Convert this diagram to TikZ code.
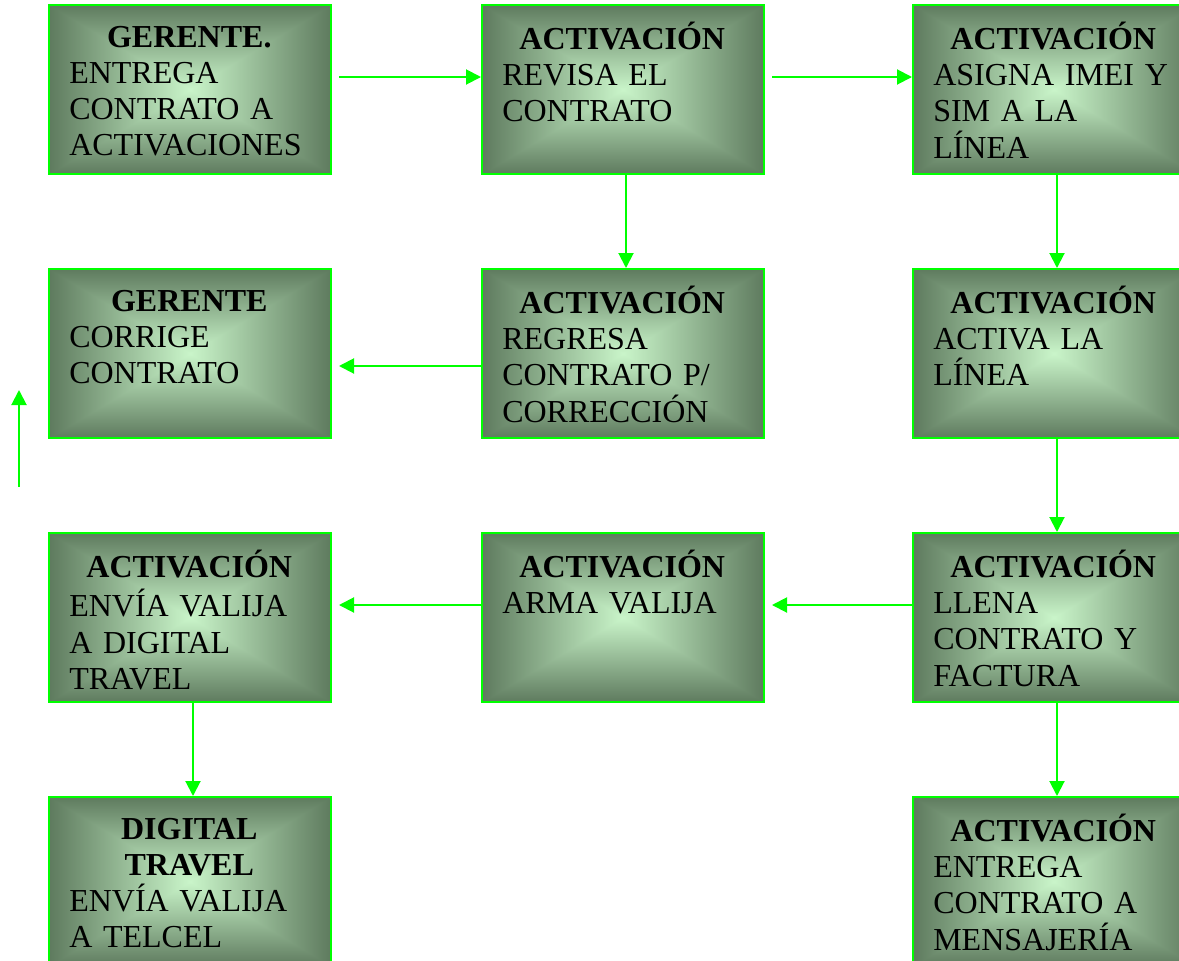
\documentclass[tikz,border=0pt]{standalone}
\usepackage{fontspec}
\setmainfont{Liberation Serif}
\usetikzlibrary{arrows.meta}

\definecolor{linegreen}{RGB}{0,255,0}

% rectangular glow: light in the middle, darker toward the edges
% (the visible part of a shading is its central 50bp square)
\pgfdeclarefunctionalshading{boxglow}{\pgfpoint{-50bp}{-50bp}}{\pgfpoint{50bp}{50bp}}{}{%
  abs exch abs 2 copy lt {exch} if pop 25 div
  dup 1 gt {pop 1} if
  dup -0.42 mul 0.79 add exch
  dup -0.48 mul 0.96 add exch
  -0.42 mul 0.79 add
}

\tikzset{
  card/.style={rectangle, draw=linegreen, line width=1.5pt, shading=boxglow,
    minimum width=211.5pt, minimum height=126.75pt, inner sep=0pt},
  cardtext/.style={anchor=north west, inner sep=0pt, text width=180pt,
    align=left, font=\fontsize{24}{27.2}\selectfont},
  flow/.style={draw=linegreen, line width=1.5pt,
    -{Triangle[length=11.25pt,width=11.25pt]}, fill=linegreen}
}

% #1 name, #2 centre, #3 bold heading, #4 body lines
\newcommand{\flowcard}[4]{%
  \node[card] (#1) at (#2) {};
  \node[cardtext] (#1t) at ([shift={(21,17.5)}]#1.north west)
    {{\centering\bfseries\strut #3\par}#4};
}

\begin{document}
\begin{tikzpicture}[x=0.75pt,y=-0.75pt]
\useasboundingbox (0,0) rectangle (1179,961);

% first row
\flowcard{b11}{190,89.5}{GERENTE.}{ENTREGA\\CONTRATO A\\ACTIVACIONES}
\flowcard{b12}{623,89.5}{ACTIVACIÓN}{REVISA EL\\CONTRATO}
\flowcard{b13}{1054,89.5}{ACTIVACIÓN}{ASIGNA IMEI Y\\SIM A LA\\LÍNEA}

% second row
\flowcard{b21}{190,353.5}{GERENTE}{CORRIGE\\CONTRATO}
\flowcard{b22}{623,353.5}{ACTIVACIÓN}{REGRESA\\CONTRATO P/\\CORRECCIÓN}
\flowcard{b23}{1054,353.5}{ACTIVACIÓN}{ACTIVA LA\\LÍNEA}

% third row
\flowcard{b31}{190,617.5}{ACTIVACIÓN}{ENVÍA VALIJA\\A DIGITAL\\TRAVEL}
\flowcard{b32}{623,617.5}{ACTIVACIÓN}{ARMA VALIJA}
\flowcard{b33}{1054,617.5}{ACTIVACIÓN}{LLENA\\CONTRATO Y\\FACTURA}

% fourth row
\flowcard{b41}{190,881.5}{DIGITAL\par TRAVEL}{ENVÍA VALIJA\\A TELCEL}
\flowcard{b43}{1054,881.5}{ACTIVACIÓN}{ENTREGA\\CONTRATO A\\MENSAJERÍA}

% connectors
\draw[flow] ([shift={(7,-12.5)}]b11.east) -- ([shift={(0,-12.5)}]b12.west);
\draw[flow] ([shift={(7,-12.5)}]b12.east) -- ([shift={(0,-12.5)}]b13.west);
\draw[flow] ([shift={(3,0)}]b12.south) -- ([shift={(3,0)}]b22.north);
\draw[flow] ([shift={(3,0)}]b13.south) -- ([shift={(3,0)}]b23.north);
\draw[flow] ([shift={(0,12.5)}]b22.west) -- ([shift={(7,12.5)}]b21.east);
\draw[flow] ([shift={(3,0)}]b23.south) -- ([shift={(3,0)}]b33.north);
\draw[flow] ([shift={(0,-12.5)}]b33.west) -- ([shift={(7,-12.5)}]b32.east);
\draw[flow] ([shift={(0,-12.5)}]b32.west) -- ([shift={(7,-12.5)}]b31.east);
\draw[flow] ([shift={(3,0)}]b31.south) -- ([shift={(3,0)}]b41.north);
\draw[flow] ([shift={(3,0)}]b33.south) -- ([shift={(3,0)}]b43.north);

% loose arrow on the left edge
\coordinate (up0) at (19,487);
\coordinate (up1) at (19,390);
\draw[flow] (up0) -- (up1);
\end{tikzpicture}
\end{document}
